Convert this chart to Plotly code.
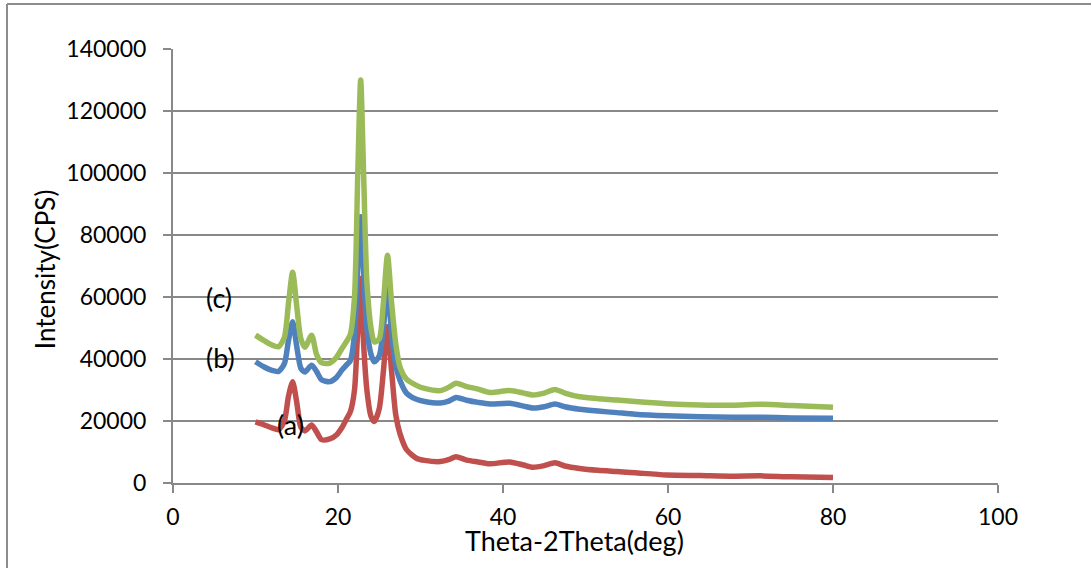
import plotly.graph_objects as go

two_theta = [10, 11, 12, 12.8, 13.5, 14, 14.5, 15, 15.5, 16, 16.8, 17.4, 18, 19, 19.8, 20.5,
             21, 21.5, 22, 22.4, 22.75, 23.1, 23.5, 24, 24.4, 25, 25.5, 26, 26.5, 27, 27.5,
             28.3, 29.5, 30.5, 32.4, 33.5, 34.3, 35.6, 37, 38.4, 40.8, 42.5, 43.6, 45, 46.3,
             47.5, 49.3, 51.5, 53.8, 56, 59.8, 63.9, 67.9, 71.2, 75, 80]

series_a = [19700, 18800, 17800, 17200, 20000, 28000, 32700, 26000, 18000, 16800, 18700, 16500,
            14000, 14200, 15500, 18000, 20500, 23000, 30000, 50000, 66000, 45000, 30000, 21500,
            19800, 24000, 36000, 50400, 36000, 22000, 16000, 10800, 8000, 7300, 6900, 7600, 8500,
            7400, 6800, 6200, 6800, 5800, 5100, 5600, 6500, 5500, 4700, 4100, 3700, 3300, 2600,
            2400, 2200, 2300, 2000, 1800]

series_b = [39100, 37500, 36300, 36000, 38500, 46000, 52000, 44000, 37000, 35800, 38000, 36000,
            33300, 32700, 34000, 36500, 38000, 39500, 48000, 70000, 85900, 68000, 50000, 41500,
            39100, 41000, 50000, 63300, 48000, 38000, 33200, 29000, 27000, 26300, 25800, 26500,
            27600, 26700, 26000, 25500, 25700, 24800, 24200, 24600, 25500, 24600, 23800, 23200,
            22700, 22200, 21700, 21400, 21200, 21200, 21000, 20900]

series_c = [47700, 46000, 44500, 44000, 47000, 58000, 68000, 57000, 46500, 43800, 47700, 41500,
            38800, 38700, 40500, 43500, 45500, 48000, 60000, 100000, 130000, 100000, 65000, 50000,
            45500, 46500, 58000, 73500, 58000, 45000, 37500, 33500, 31500, 30500, 29800, 31000,
            32200, 31100, 30300, 29200, 29800, 29000, 28400, 29000, 30200, 29000, 27800, 27200,
            26800, 26300, 25600, 25200, 25100, 25400, 25000, 24400]

series_names = ["(a)", "(b)", "(c)"]
series_colors = ["#C0504D", "#4F81BD", "#9BBB59"]
label_x = [14.2, 5.8, 5.6]
label_y = [19000, 40600, 59700]

x_ticks = [0, 20, 40, 60, 80, 100]
y_ticks = [0, 20000, 40000, 60000, 80000, 100000, 120000, 140000]

FONT = "Lato"
GRID = "#888888"

fig = go.Figure()
for name, ys, col in zip(series_names, [series_a, series_b, series_c], series_colors):
    fig.add_trace(go.Scatter(x=two_theta, y=ys, mode="lines", name=name,
                             line=dict(color=col, width=5.5, shape="spline", smoothing=0.7)))

for name, lx, ly in zip(series_names, label_x, label_y):
    fig.add_annotation(x=lx, y=ly, xref="x", yref="y", text=name, showarrow=False,
                       xanchor="center", yanchor="middle",
                       font=dict(family=FONT, size=27, color="black"))

fig.add_annotation(x=0.487, y=-0.132, xref="paper", yref="paper", text="Theta-2Theta(deg)",
                   showarrow=False, xanchor="center", yanchor="middle",
                   font=dict(family=FONT, size=27, color="black"))
fig.add_annotation(x=-0.155, y=0.493, xref="paper", yref="paper", text="Intensity(CPS)",
                   showarrow=False, textangle=-90, xanchor="center", yanchor="middle",
                   font=dict(family=FONT, size=26, color="black"))

# outer chart frame
fig.add_shape(type="line", xref="paper", yref="paper", x0=-0.2012, x1=-0.2012, y0=-0.3, y1=1.1037,
              line=dict(color="#8c8c8c", width=2))
fig.add_shape(type="line", xref="paper", yref="paper", x0=-0.2012, x1=1.2, y0=1.1037, y1=1.1037,
              line=dict(color="#8c8c8c", width=2))

fig.update_layout(
    width=1091, height=568,
    margin=dict(l=173, r=93, t=49, b=85),
    paper_bgcolor="white", plot_bgcolor="white",
    showlegend=False,
    font=dict(family=FONT, size=23, color="black"),
    xaxis=dict(range=[0, 100], tickvals=x_ticks, showgrid=False, zeroline=False,
               showline=True, linecolor=GRID, linewidth=2, ticks="outside", ticklen=8,
               tickwidth=2, tickcolor=GRID, ticklabelstandoff=4,
               tickfont=dict(family=FONT, size=23, color="black")),
    yaxis=dict(range=[0, 140000], tickvals=y_ticks, tickformat="d", showgrid=True,
               gridcolor=GRID, gridwidth=2, zeroline=False, showline=True, linecolor=GRID,
               linewidth=2, ticks="outside", ticklen=8, tickwidth=2, tickcolor=GRID,
               ticklabelstandoff=12, tickfont=dict(family=FONT, size=23, color="black")),
)

fig.write_html("out.html", config={"displayModeBar": False},
               post_script="document.body.style.margin='0';")
